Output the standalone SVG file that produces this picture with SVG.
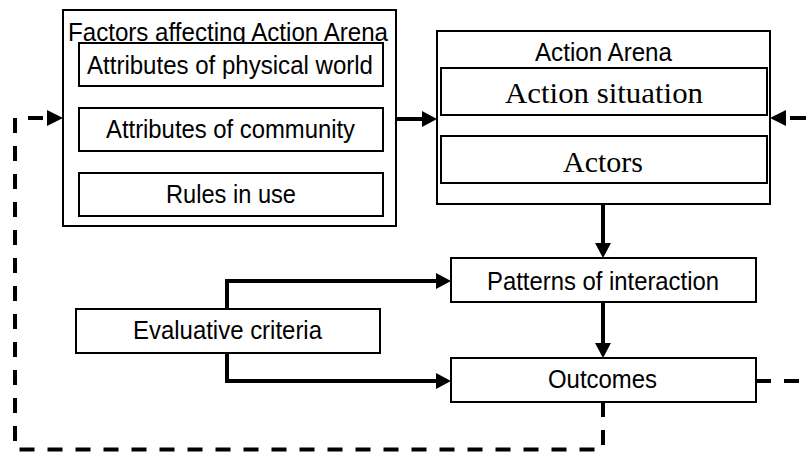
<svg xmlns="http://www.w3.org/2000/svg" width="811" height="452" viewBox="0 0 811 452">
<style>
.box{fill:#fff;stroke:#000;stroke-width:2}
.t{font-family:"Liberation Sans",Arial,sans-serif;font-size:26px;text-anchor:middle;fill:#000}
.s{font-family:"Liberation Serif","Times New Roman",serif;font-size:30px;text-anchor:middle;fill:#000}
.c{fill:none;stroke:#000;stroke-width:4}
.d{fill:none;stroke:#000;stroke-width:4;stroke-dasharray:15 13}
.h{fill:#000}
</style>
<rect width="811" height="452" fill="#fff"/>
<g id="connectors">
  <path class="c" d="M396,119 H423"/>
  <polygon class="h" points="422,111 437,119 422,127"/>
  <path class="c" d="M603,204 V244"/>
  <polygon class="h" points="595,243 603,258 611,243"/>
  <path class="c" d="M603,302 V344"/>
  <polygon class="h" points="595,343 603,358 611,343"/>
  <path class="c" d="M437,281 H227 V381 H437"/>
  <polygon class="h" points="436,273 451,281 436,289"/>
  <polygon class="h" points="436,373 451,381 436,389"/>
  <path class="d" d="M603,402 V449.5 H15 V118 H43"/>
  <polygon class="h" points="47,110 63,118 47,126"/>
  <path class="d" d="M756,381 H811"/>
  <path class="c" d="M790,118 H806"/>
  <polygon class="h" points="786,110 770,118 786,126"/>
</g>
<g id="factors">
  <rect class="box" x="63" y="10" width="333" height="216"/>
  <text class="t" x="228" y="41" textLength="320" lengthAdjust="spacingAndGlyphs">Factors affecting Action Arena</text>
</g>
<g id="physical">
  <rect class="box" x="79" y="43" width="304" height="43"/>
  <text class="t" x="230" y="74" textLength="286" lengthAdjust="spacingAndGlyphs">Attributes of physical world</text>
</g>
<g id="community">
  <rect class="box" x="79" y="108" width="304" height="43"/>
  <text class="t" x="230.5" y="138" textLength="249" lengthAdjust="spacingAndGlyphs">Attributes of community</text>
</g>
<g id="rules">
  <rect class="box" x="79" y="173" width="304" height="43"/>
  <text class="t" x="231" y="203" textLength="130" lengthAdjust="spacingAndGlyphs">Rules in use</text>
</g>
<g id="arena">
  <rect class="box" x="437" y="31" width="333" height="173"/>
  <text class="t" x="603.5" y="61" textLength="137" lengthAdjust="spacingAndGlyphs">Action Arena</text>
</g>
<g id="situation">
  <rect class="box" x="441" y="68" width="326" height="47"/>
  <text class="s" x="604" y="103" textLength="198" lengthAdjust="spacingAndGlyphs">Action situation</text>
</g>
<g id="actors">
  <rect class="box" x="441" y="136" width="326" height="47"/>
  <text class="s" x="603" y="172">Actors</text>
</g>
<g id="patterns">
  <rect class="box" x="451" y="258" width="305" height="44"/>
  <text class="t" x="603" y="290" textLength="232" lengthAdjust="spacingAndGlyphs">Patterns of interaction</text>
</g>
<g id="outcomes">
  <rect class="box" x="451" y="358" width="305" height="44"/>
  <text class="t" x="602.5" y="388" textLength="109" lengthAdjust="spacingAndGlyphs">Outcomes</text>
</g>
<g id="evaluative">
  <rect class="box" x="76" y="309" width="304" height="44"/>
  <text class="t" x="227.5" y="339" textLength="189" lengthAdjust="spacingAndGlyphs">Evaluative criteria</text>
</g>
</svg>
